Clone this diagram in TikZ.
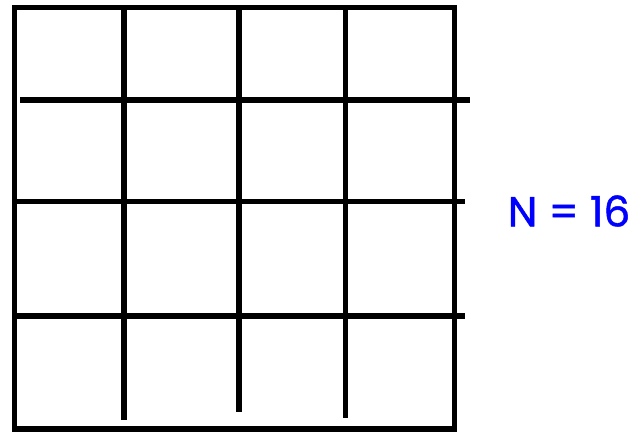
\documentclass[tikz,border=0pt]{standalone}
\usepackage{fontspec}
\newfontfamily\labelfont[FakeBold=1.2]{Poppins}
\definecolor{labelblue}{RGB}{0,0,255}
\tikzset{
  gridline/.style={line width=5.5bp, line cap=butt},
  boxline/.style={line width=5.5bp, line join=miter},
  lbl/.style={font=\labelfont\fontsize{42bp}{50bp}\selectfont, text=labelblue, inner sep=0pt, anchor=center}
}
\begin{document}
\begin{tikzpicture}[x=1bp,y=-1bp]
\useasboundingbox (0,0) rectangle (635,431);
% outer box
\draw[boxline] (14.5,7.3) rectangle (454.5,429);
% vertical lines
\coordinate (v1t) at (124,7.3); \coordinate (v1b) at (124,420);
\coordinate (v2t) at (239,7.3); \coordinate (v2b) at (239,412.3);
\coordinate (v3t) at (345.5,7.3); \coordinate (v3b) at (345.5,417.7);
\draw[gridline] (v1t) -- (v1b);
\draw[gridline] (v2t) -- (v2b);
\draw[gridline] (v3t) -- (v3b);
% horizontal lines
\coordinate (h1l) at (20,100); \coordinate (h1r) at (470,100);
\coordinate (h2l) at (14.5,201.5); \coordinate (h2r) at (465,201.5);
\coordinate (h3l) at (14.5,316); \coordinate (h3r) at (465,316);
\draw[gridline] (h1l) -- (h1r);
\draw[gridline] (h2l) -- (h2r);
\draw[gridline] (h3l) -- (h3r);
\node[lbl] (n) at (569,211) {N = 16};
\end{tikzpicture}
\end{document}
